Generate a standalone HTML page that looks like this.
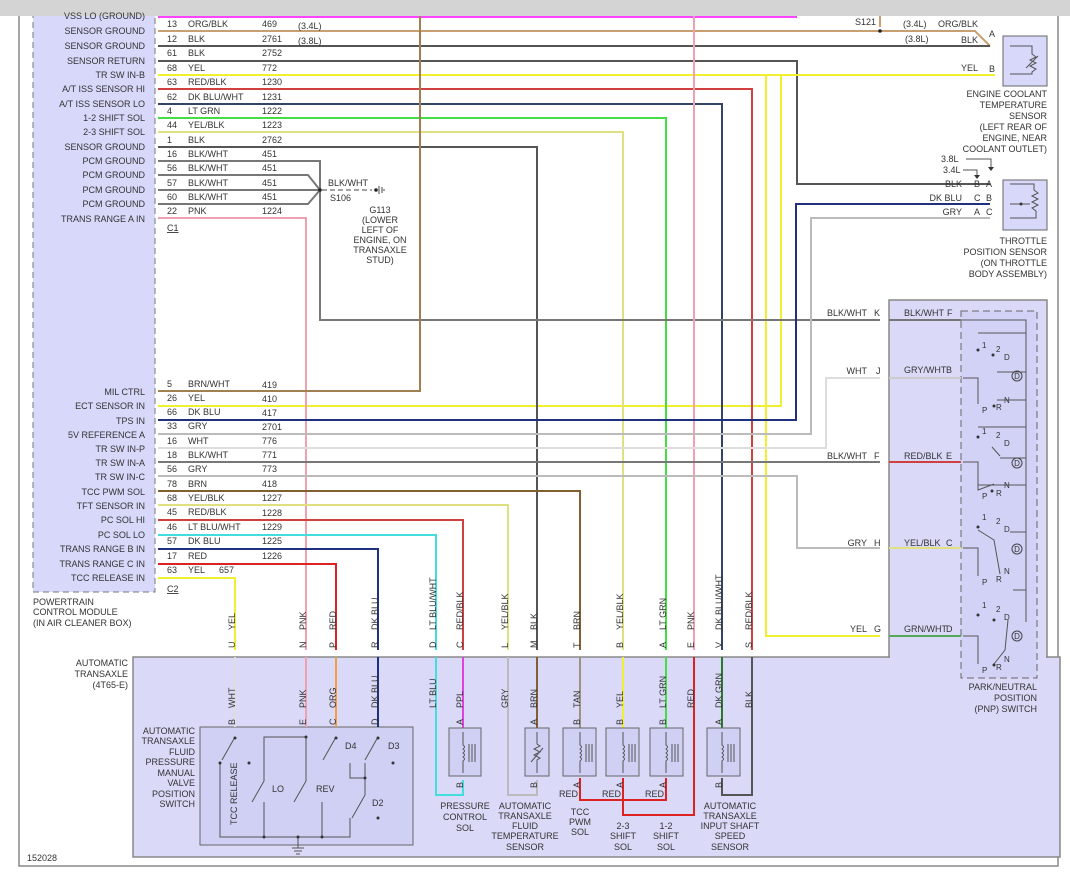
<!DOCTYPE html>
<html><head><meta charset="utf-8"><style>
html,body{margin:0;padding:0;background:#fff;}
svg{display:block;font-family:"Liberation Sans",sans-serif;font-size:9px;fill:#333;}
text{fill:#333;}
.w{fill:none;stroke-width:2;}
.t{fill:none;stroke:#555;stroke-width:1;}
.r{text-anchor:end;}
.m{text-anchor:middle;}
</style></head><body>
<svg width="1070" height="880" viewBox="0 0 1070 880" xmlns="http://www.w3.org/2000/svg">
<rect x="0" y="0" width="1070" height="880" fill="#fff"/>
<!-- frame -->
<rect x="19" y="10" width="1039" height="856" fill="none" stroke="#888" stroke-width="1.5"/>
<!-- PCM -->
<rect x="33" y="0" width="122" height="592" fill="#d8d8fa" stroke="#777" stroke-dasharray="6,4"/>
<!-- trans box -->
<rect x="133" y="657" width="927" height="200" fill="#dadaf8" stroke="#888" stroke-width="1.5"/>
<!-- PNP box -->
<rect x="889" y="300" width="158" height="357" fill="#dadaf8" stroke="#888" stroke-width="1.5"/>
<rect x="890" y="655" width="156" height="4" fill="#dadaf8"/>
<rect x="961" y="311" width="76" height="367" fill="#d2d2f6" stroke="#666" stroke-dasharray="7,4"/>
<!-- sensors -->
<rect x="1003" y="36" width="44" height="50" fill="#d8d8fa" stroke="#666"/>
<rect x="1003" y="180" width="44" height="50" fill="#d8d8fa" stroke="#666"/>
<rect x="200" y="727" width="213" height="118" fill="#d0d0f4" stroke="#666"/>

<!-- top gray bar -->
<rect x="0" y="0" width="1070" height="16" fill="#d4d4d4"/>

<!-- upper wires -->
<path class="w" stroke="#ff44ff" d="M158,17H797"/>
<path class="w" stroke="#c8a070" d="M158,31H880M880,16V27M880,31H975L990,46"/>
<circle cx="880" cy="31" r="1.8" fill="#222"/>
<path class="w" stroke="#555" d="M158,46H990"/>
<path class="w" stroke="#555" d="M158,61H797V184H990"/>
<path class="w" stroke="#f0f030" d="M158,75H995M781,75V406H158M766,75V636H880"/>
<path class="w" stroke="#d04040" d="M158,89H752V650"/>
<path class="w" stroke="#334466" d="M158,104H722V650"/>
<path class="w" stroke="#44dd44" d="M158,118H666V650"/>
<path class="w" stroke="#e0e080" d="M158,132H623V650"/>
<path class="w" stroke="#555" d="M158,147H537V650"/>
<path class="w" stroke="#777" stroke-width="1.3" fill="none" d="M158,161H320V320H880M158,175H308L320,190M158,190H320M158,204H308L320,190"/>
<circle cx="320" cy="190" r="1.8" fill="#222"/>
<path stroke="#444" stroke-dasharray="5,3" fill="none" d="M322,190H372"/>
<circle cx="376" cy="190" r="1.8" fill="#222"/>
<path stroke="#444" fill="none" d="M379,186V194M382,187V193M384,189V191"/>
<path class="w" stroke="#f0a0b0" d="M158,218H306V650M694,16V650"/>
<path class="w" stroke="#a08050" d="M158,391H420V16"/>
<path class="w" stroke="#203080" d="M158,420H796V204H990"/>
<path class="w" stroke="#bbb" d="M158,434H811V218H990"/>
<path class="w" stroke="#ddd" d="M158,448H826V378H880"/>
<path class="w" stroke="#777" d="M158,462H880"/>
<path class="w" stroke="#bbb" d="M158,476H797V548H880"/>
<path class="w" stroke="#806030" d="M158,491H580V650"/>
<path class="w" stroke="#e0e080" d="M158,505H508V650"/>
<path class="w" stroke="#d04040" d="M158,520H463V650"/>
<path class="w" stroke="#44dddd" d="M158,535H436V650"/>
<path class="w" stroke="#203080" d="M158,549H378V650"/>
<path class="w" stroke="#dd2222" d="M158,564H336V650"/>
<path class="w" stroke="#f0f030" d="M158,578H235V650"/>

<!-- row labels -->
<g class="r">
<text x="145" y="19">VSS LO (GROUND)</text>
<text x="145" y="34">SENSOR GROUND</text>
<text x="145" y="49">SENSOR GROUND</text>
<text x="145" y="64">SENSOR RETURN</text>
<text x="145" y="78">TR SW IN-B</text>
<text x="145" y="92">A/T ISS SENSOR HI</text>
<text x="145" y="107">A/T ISS SENSOR LO</text>
<text x="145" y="121">1-2 SHIFT SOL</text>
<text x="145" y="135">2-3 SHIFT SOL</text>
<text x="145" y="150">SENSOR GROUND</text>
<text x="145" y="164">PCM GROUND</text>
<text x="145" y="178">PCM GROUND</text>
<text x="145" y="193">PCM GROUND</text>
<text x="145" y="207">PCM GROUND</text>
<text x="145" y="222">TRANS RANGE A IN</text>
<text x="145" y="395">MIL CTRL</text>
<text x="145" y="409">ECT SENSOR IN</text>
<text x="145" y="424">TPS IN</text>
<text x="145" y="438">5V REFERENCE A</text>
<text x="145" y="452">TR SW IN-P</text>
<text x="145" y="466">TR SW IN-A</text>
<text x="145" y="480">TR SW IN-C</text>
<text x="145" y="495">TCC PWM SOL</text>
<text x="145" y="509">TFT SENSOR IN</text>
<text x="145" y="523">PC SOL HI</text>
<text x="145" y="538">PC SOL LO</text>
<text x="145" y="552">TRANS RANGE B IN</text>
<text x="145" y="567">TRANS RANGE C IN</text>
<text x="145" y="581">TCC RELEASE IN</text>
</g>
<g>
<text x="167" y="27">13</text><text x="188" y="27">ORG/BLK</text><text x="262" y="27">469</text>
<text x="167" y="42">12</text><text x="188" y="42">BLK</text><text x="262" y="42">2761</text>
<text x="167" y="56">61</text><text x="188" y="56">BLK</text><text x="262" y="56">2752</text>
<text x="167" y="71">68</text><text x="188" y="71">YEL</text><text x="262" y="71">772</text>
<text x="167" y="85">63</text><text x="188" y="85">RED/BLK</text><text x="262" y="85">1230</text>
<text x="167" y="100">62</text><text x="188" y="100">DK BLU/WHT</text><text x="262" y="100">1231</text>
<text x="167" y="114">4</text><text x="188" y="114">LT GRN</text><text x="262" y="114">1222</text>
<text x="167" y="128">44</text><text x="188" y="128">YEL/BLK</text><text x="262" y="128">1223</text>
<text x="167" y="143">1</text><text x="188" y="143">BLK</text><text x="262" y="143">2762</text>
<text x="167" y="157">16</text><text x="188" y="157">BLK/WHT</text><text x="262" y="157">451</text>
<text x="167" y="171">56</text><text x="188" y="171">BLK/WHT</text><text x="262" y="171">451</text>
<text x="167" y="186">57</text><text x="188" y="186">BLK/WHT</text><text x="262" y="186">451</text>
<text x="167" y="200">60</text><text x="188" y="200">BLK/WHT</text><text x="262" y="200">451</text>
<text x="167" y="214">22</text><text x="188" y="214">PNK</text><text x="262" y="214">1224</text>
<text x="167" y="231" text-decoration="underline">C1</text>
<text x="298" y="29">(3.4L)</text><text x="298" y="44">(3.8L)</text>
<text x="328" y="186">BLK/WHT</text><text x="330" y="201">S106</text>
<g class="m"><text x="380" y="213">G113</text><text x="380" y="223">(LOWER</text><text x="380" y="233">LEFT OF</text><text x="380" y="243">ENGINE, ON</text><text x="380" y="253">TRANSAXLE</text><text x="380" y="263">STUD)</text></g>
<text x="167" y="387">5</text><text x="188" y="387">BRN/WHT</text><text x="262" y="388">419</text>
<text x="167" y="401">26</text><text x="188" y="401">YEL</text><text x="262" y="402">410</text>
<text x="167" y="415">66</text><text x="188" y="415">DK BLU</text><text x="262" y="416">417</text>
<text x="167" y="429">33</text><text x="188" y="429">GRY</text><text x="262" y="430">2701</text>
<text x="167" y="444">16</text><text x="188" y="444">WHT</text><text x="262" y="444">776</text>
<text x="167" y="458">18</text><text x="188" y="458">BLK/WHT</text><text x="262" y="458">771</text>
<text x="167" y="472">56</text><text x="188" y="472">GRY</text><text x="262" y="472">773</text>
<text x="167" y="487">78</text><text x="188" y="487">BRN</text><text x="262" y="487">418</text>
<text x="167" y="501">68</text><text x="188" y="501">YEL/BLK</text><text x="262" y="501">1227</text>
<text x="167" y="515">45</text><text x="188" y="515">RED/BLK</text><text x="262" y="516">1228</text>
<text x="167" y="530">46</text><text x="188" y="530">LT BLU/WHT</text><text x="262" y="530">1229</text>
<text x="167" y="544">57</text><text x="188" y="544">DK BLU</text><text x="262" y="544">1225</text>
<text x="167" y="559">17</text><text x="188" y="559">RED</text><text x="262" y="559">1226</text>
<text x="167" y="573">63</text><text x="188" y="573">YEL</text><text x="219" y="573">657</text>
<text x="167" y="592" text-decoration="underline">C2</text>
<text x="33" y="605">POWERTRAIN</text><text x="33" y="615">CONTROL MODULE</text><text x="33" y="626">(IN AIR CLEANER BOX)</text>
</g>

<!-- right upper labels -->
<g>
<text class="r" x="876" y="25">S121</text>
<text x="903" y="27">(3.4L)</text><text x="938" y="27">ORG/BLK</text><text x="989" y="37">A</text>
<text x="905" y="42">(3.8L)</text><text class="r" x="978" y="43">BLK</text>
<text x="961" y="71">YEL</text><text x="989" y="72">B</text>
<g class="r"><text x="1047" y="97">ENGINE COOLANT</text><text x="1047" y="108">TEMPERATURE</text><text x="1047" y="119">SENSOR</text><text x="1047" y="130">(LEFT REAR OF</text><text x="1047" y="141">ENGINE, NEAR</text><text x="1047" y="152">COOLANT OUTLET)</text>
<text x="1047" y="244">THROTTLE</text><text x="1047" y="255">POSITION SENSOR</text><text x="1047" y="266">(ON THROTTLE</text><text x="1047" y="277">BODY ASSEMBLY)</text></g>
<text x="941" y="162">3.8L</text><text x="943" y="173">3.4L</text>
<path class="t" d="M966,159H991V168M963,170H977V176"/>
<path d="M974,175h6l-3,4z M988,167h6l-3,4z" fill="#333"/>
<text class="r" x="962" y="187">BLK</text><text x="974" y="187">B</text><text x="986" y="187">A</text>
<text class="r" x="962" y="201">DK BLU</text><text x="974" y="201">C</text><text x="986" y="201">B</text>
<text class="r" x="962" y="215">GRY</text><text x="974" y="215">A</text><text x="986" y="215">C</text>
</g>
<!-- ECT / TPS internals -->
<path class="t" d="M1010,46H1032V54l4,3-6,3 6,3-6,3 6,3-4,3V74H1010M1026,68l12,-12"/>
<path class="t" d="M1010,184H1034V190l4,3-6,3 6,3-6,3 6,3-6,3 4,3V218H1010M1010,204H1030"/>
<circle cx="1021" cy="204" r="1.5" fill="#333"/>

<!-- PNP external labels -->
<g>
<text class="r" x="867" y="316">BLK/WHT</text><text x="874" y="316">K</text>
<text class="r" x="867" y="374">WHT</text><text x="876" y="374">J</text>
<text class="r" x="867" y="459">BLK/WHT</text><text x="874" y="459">F</text>
<text class="r" x="867" y="546">GRY</text><text x="874" y="546">H</text>
<text class="r" x="867" y="632">YEL</text><text x="874" y="632">G</text>
<text x="904" y="316">BLK/WHT</text><text x="947" y="316">F</text>
<text x="904" y="373">GRY/WHT</text><text x="946" y="373">B</text>
<text x="904" y="459">RED/BLK</text><text x="946" y="459">E</text>
<text x="904" y="546">YEL/BLK</text><text x="946" y="546">C</text>
<text x="904" y="632">GRN/WHT</text><text x="946" y="632">D</text>
<g class="r"><text x="1037" y="690">PARK/NEUTRAL</text><text x="1037" y="701">POSITION</text><text x="1037" y="712">(PNP) SWITCH</text></g>
</g>
<path class="w" stroke="#777" stroke-width="1.3" d="M889,320H961"/>
<path class="w" stroke="#ccc" d="M889,378H961"/>
<path class="w" stroke="#d04040" d="M889,462H961"/>
<path class="w" stroke="#e0e080" d="M889,548H961"/>
<path class="w" stroke="#55aa55" d="M889,636H961"/>
<!-- PNP internals -->
<path class="t" d="M961,320H1026V622M978,333H1026M997,372H1026M997,400H1026M978,427H1026M1000,458H1026M978,485H1026M1010,532H1026M1013,590H1026"/>
<g class="t">
<path d="M963,378H978V404M963,462H978V490L994,484M963,548H978V576M963,636H978V664M994,664L1005,650 1008,620M978,530L994,540 1000,574M992,447L1000,456"/>
</g>
<g fill="#333">
<circle cx="978" cy="350" r="1.5"/><circle cx="993" cy="355" r="1.5"/><circle cx="994" cy="406" r="1.5"/>
<circle cx="978" cy="437" r="1.5"/><circle cx="992" cy="491" r="1.5"/><circle cx="978" cy="527" r="1.5"/><circle cx="978" cy="615" r="1.5"/><circle cx="994" cy="620" r="1.5"/><circle cx="994" cy="665" r="1.5"/>
</g>
<g font-size="8">
<text x="982" y="348">1</text><text x="996" y="352">2</text><text x="1004" y="360">D</text><text x="1004" y="403">N</text><text x="982" y="413">P</text><text x="996" y="410">R</text>
<circle cx="1017" cy="376" r="5" fill="none" stroke="#444"/><text class="m" x="1017" y="379">D</text>
<text x="982" y="434">1</text><text x="996" y="438">2</text><text x="1004" y="446">D</text><text x="1004" y="488">N</text><text x="982" y="499">P</text><text x="996" y="496">R</text>
<circle cx="1017" cy="463" r="5" fill="none" stroke="#444"/><text class="m" x="1017" y="466">D</text>
<text x="982" y="520">1</text><text x="996" y="524">2</text><text x="1004" y="532">D</text><text x="1004" y="574">N</text><text x="982" y="585">P</text><text x="996" y="582">R</text>
<circle cx="1017" cy="549" r="5" fill="none" stroke="#444"/><text class="m" x="1017" y="552">D</text>
<text x="982" y="608">1</text><text x="996" y="612">2</text><text x="1004" y="620">D</text><text x="1004" y="662">N</text><text x="982" y="673">P</text><text x="996" y="670">R</text>
<circle cx="1017" cy="636" r="5" fill="none" stroke="#444"/><text class="m" x="1017" y="639">D</text>
</g>

<!-- connector pin labels (rotated) -->
<g font-size="9">
<text transform="translate(235,648) rotate(-90)">U</text><text transform="translate(235,630) rotate(-90)">YEL</text>
<text transform="translate(306,648) rotate(-90)">N</text><text transform="translate(306,630) rotate(-90)">PNK</text>
<text transform="translate(336,648) rotate(-90)">P</text><text transform="translate(336,630) rotate(-90)">RED</text>
<text transform="translate(378,648) rotate(-90)">R</text><text transform="translate(378,630) rotate(-90)">DK BLU</text>
<text transform="translate(436,648) rotate(-90)">D</text><text transform="translate(436,630) rotate(-90)">LT BLU/WHT</text>
<text transform="translate(463,648) rotate(-90)">C</text><text transform="translate(463,630) rotate(-90)">RED/BLK</text>
<text transform="translate(508,648) rotate(-90)">L</text><text transform="translate(508,630) rotate(-90)">YEL/BLK</text>
<text transform="translate(537,648) rotate(-90)">M</text><text transform="translate(537,630) rotate(-90)">BLK</text>
<text transform="translate(580,648) rotate(-90)">T</text><text transform="translate(580,630) rotate(-90)">BRN</text>
<text transform="translate(623,648) rotate(-90)">B</text><text transform="translate(623,630) rotate(-90)">YEL/BLK</text>
<text transform="translate(666,648) rotate(-90)">A</text><text transform="translate(666,630) rotate(-90)">LT GRN</text>
<text transform="translate(694,648) rotate(-90)">E</text><text transform="translate(694,630) rotate(-90)">PNK</text>
<text transform="translate(722,648) rotate(-90)">V</text><text transform="translate(722,630) rotate(-90)">DK BLU/WHT</text>
<text transform="translate(752,648) rotate(-90)">S</text><text transform="translate(752,630) rotate(-90)">RED/BLK</text>
</g>

<!-- inside transaxle wires -->
<path class="w" stroke="#ddd" d="M235,657V727"/>
<path class="w" stroke="#f0a0b0" d="M306,657V727"/>
<path class="w" stroke="#f0a040" d="M336,657V727"/>
<path class="w" stroke="#203080" d="M378,657V727"/>
<path class="w" stroke="#44dddd" d="M436,657V795H463V780"/>
<path class="w" stroke="#dd44dd" d="M463,657V728"/>
<path class="w" stroke="#bbb" d="M508,657V795H537V780"/>
<path class="w" stroke="#806030" d="M537,657V728"/>
<path class="w" stroke="#a09080" d="M580,657V728"/>
<path class="w" stroke="#f0f030" d="M623,657V728"/>
<path class="w" stroke="#44dd44" d="M666,657V728"/>
<path class="w" stroke="#dd2222" d="M694,657V815H623V778M580,778V800H666V778"/>
<path class="w" stroke="#2a7a2a" d="M722,657V728"/>
<path class="w" stroke="#555" d="M752,657V795H722V778"/>
<g font-size="9">
<text transform="translate(235,725) rotate(-90)">B</text><text transform="translate(235,708) rotate(-90)">WHT</text>
<text transform="translate(306,725) rotate(-90)">E</text><text transform="translate(306,708) rotate(-90)">PNK</text>
<text transform="translate(336,725) rotate(-90)">C</text><text transform="translate(336,708) rotate(-90)">ORG</text>
<text transform="translate(378,725) rotate(-90)">D</text><text transform="translate(378,708) rotate(-90)">DK BLU</text>
<text transform="translate(436,708) rotate(-90)">LT BLU</text>
<text transform="translate(463,725) rotate(-90)">A</text><text transform="translate(463,708) rotate(-90)">PPL</text>
<text transform="translate(508,708) rotate(-90)">GRY</text>
<text transform="translate(537,725) rotate(-90)">A</text><text transform="translate(537,708) rotate(-90)">BRN</text>
<text transform="translate(580,725) rotate(-90)">B</text><text transform="translate(580,708) rotate(-90)">TAN</text>
<text transform="translate(623,725) rotate(-90)">B</text><text transform="translate(623,708) rotate(-90)">YEL</text>
<text transform="translate(666,725) rotate(-90)">B</text><text transform="translate(666,708) rotate(-90)">LT GRN</text>
<text transform="translate(694,708) rotate(-90)">RED</text>
<text transform="translate(722,725) rotate(-90)">A</text><text transform="translate(722,708) rotate(-90)">DK GRN</text>
<text transform="translate(752,708) rotate(-90)">BLK</text>
<text transform="translate(463,788) rotate(-90)">B</text><text transform="translate(537,788) rotate(-90)">B</text>
<text transform="translate(580,788) rotate(-90)">A</text><text transform="translate(623,788) rotate(-90)">A</text>
<text transform="translate(666,788) rotate(-90)">A</text><text transform="translate(722,788) rotate(-90)">B</text>
<text x="559" y="797">RED</text><text x="602" y="797">RED</text><text x="645" y="797">RED</text>
</g>
<!-- solenoid boxes -->
<g fill="#d0d0f4" stroke="#666">
<rect x="449" y="728" width="32" height="48"/><rect x="525" y="728" width="24" height="48"/>
<rect x="563" y="728" width="33" height="48"/><rect x="606" y="728" width="33" height="48"/>
<rect x="650" y="728" width="33" height="48"/><rect x="707" y="728" width="33" height="48"/>
</g>
<g class="t">
<path d="M463,732V745q3,2 0,4q3,2 0,4q3,2 0,4q3,2 0,4V773M469,744V762M472,744V762M475,744V762"/>
<path d="M537,732V744l3,2-6,3 6,3-6,3 6,3-3,2V773M531,762l12,-14"/>
<path d="M580,732V745q3,2 0,4q3,2 0,4q3,2 0,4q3,2 0,4V773M586,744V762M589,744V762M592,744V762"/>
<path d="M623,732V745q3,2 0,4q3,2 0,4q3,2 0,4q3,2 0,4V773M629,744V762M632,744V762M635,744V762"/>
<path d="M666,732V745q3,2 0,4q3,2 0,4q3,2 0,4q3,2 0,4V773M672,744V762M675,744V762M678,744V762"/>
<path d="M722,732V745q3,2 0,4q3,2 0,4q3,2 0,4q3,2 0,4V773M728,744V762M731,744V762M734,744V762"/>
</g>
<g class="m">
<text x="465" y="809">PRESSURE</text><text x="465" y="820">CONTROL</text><text x="465" y="831">SOL</text>
<text x="525" y="809">AUTOMATIC</text><text x="525" y="819">TRANSAXLE</text><text x="525" y="829">FLUID</text><text x="525" y="839">TEMPERATURE</text><text x="525" y="850">SENSOR</text>
<text x="580" y="815">TCC</text><text x="580" y="825">PWM</text><text x="580" y="835">SOL</text>
<text x="623" y="829">2-3</text><text x="623" y="839">SHIFT</text><text x="623" y="850">SOL</text>
<text x="666" y="829">1-2</text><text x="666" y="839">SHIFT</text><text x="666" y="850">SOL</text>
<text x="730" y="809">AUTOMATIC</text><text x="730" y="819">TRANSAXLE</text><text x="730" y="829">INPUT SHAFT</text><text x="730" y="839">SPEED</text><text x="730" y="850">SENSOR</text>
</g>
<g class="r">
<text x="128" y="666">AUTOMATIC</text><text x="128" y="677">TRANSAXLE</text><text x="128" y="688">(4T65-E)</text>
<text x="195" y="734">AUTOMATIC</text><text x="195" y="744">TRANSAXLE</text><text x="195" y="755">FLUID</text><text x="195" y="765">PRESSURE</text><text x="195" y="776">MANUAL</text><text x="195" y="786">VALVE</text><text x="195" y="797">POSITION</text><text x="195" y="807">SWITCH</text>
</g>
<text x="27" y="861">152028</text>
<!-- manual valve switch internals -->
<g class="t" stroke="#333">
<path d="M235,737L222,760M220,763V837H350V818M264,802V837M322,802V837M298,837V848M292,848h12M294,851h8M296,854h4"/>
<path d="M306,737H264V781L252,802M306,737V781L294,802"/>
<path d="M336,737L323,760M378,737L365,760M350,763V778H365V795L352,818M365,763V778"/>
</g>
<g fill="#333">
<circle cx="235" cy="738" r="1.5"/><circle cx="306" cy="737" r="1.5"/><circle cx="336" cy="738" r="1.5"/><circle cx="378" cy="738" r="1.5"/>
<circle cx="249" cy="763" r="1.5"/><circle cx="393" cy="763" r="1.5"/><circle cx="378" cy="818" r="1.5"/><circle cx="298" cy="837" r="1.5"/>
<circle cx="220" cy="763" r="1.5"/><circle cx="264" cy="837" r="1.5"/><circle cx="322" cy="837" r="1.5"/><circle cx="365" cy="778" r="1.5"/>
</g>
<text x="345" y="749">D4</text><text x="388" y="749">D3</text><text x="272" y="792">LO</text><text x="316" y="792">REV</text><text x="372" y="806">D2</text>
<text transform="translate(237,825) rotate(-90)">TCC RELEASE</text>
</svg>
</body></html>
